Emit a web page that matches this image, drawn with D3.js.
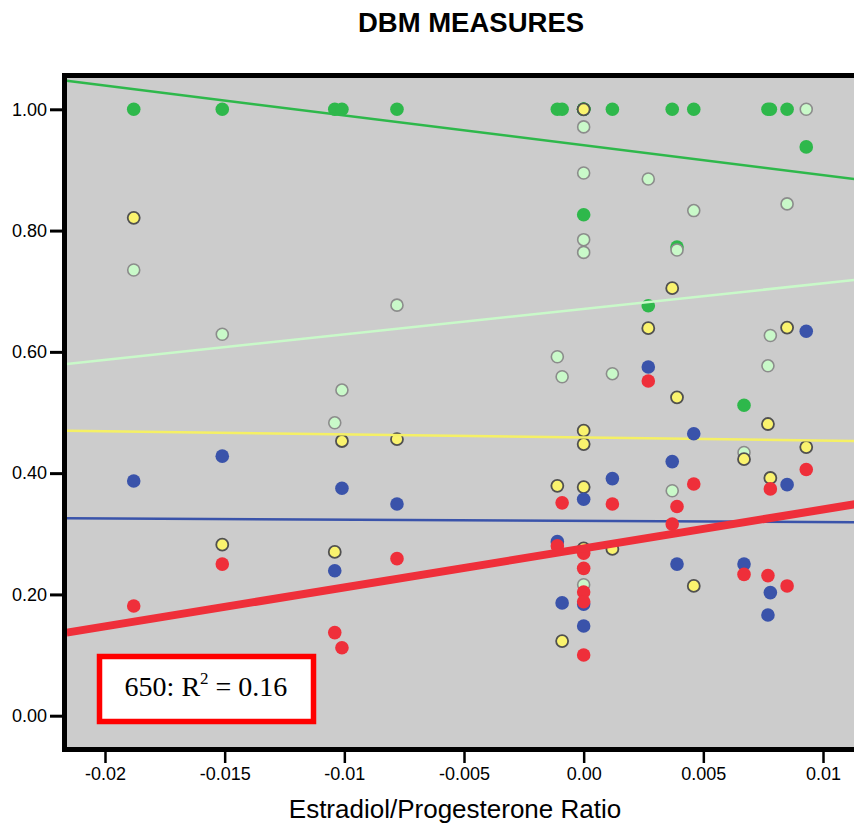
<!DOCTYPE html>
<html>
<head>
<meta charset="utf-8">
<script src="https://cdn.jsdelivr.net/npm/d3@7"></script>
<style>
  html, body { margin: 0; padding: 0; background: #ffffff; }
  svg { display: block; }
</style>
</head>
<body>
<svg id="chart" width="854" height="825"></svg>
<script>
// ---------------- DATA ----------------
const chartTitle = "DBM MEASURES";
const xAxisTitle = "Estradiol/Progesterone Ratio";
const legendPrefix = "650: R";
const legendSup = "2";
const legendSuffix = " = 0.16";

// Estradiol/Progesterone ratio per subject
const ratio = [-0.0188, -0.0151, -0.0104, -0.0101, -0.0078, -0.0011, -0.0009,
  0, 0, 0, 0, 0, 0.0012, 0.0027, 0.0037, 0.0039, 0.0046, 0.0067, 0.0077, 0.0078, 0.0085, 0.0093];

const greenVals = [1, 1, 1, 1, 1, 1, 1, 1, 1, 1, 1, 0.826, 1, 0.676, 1, 0.773, 1, 0.512, 1, 1, 1, 0.938];
const lightGreenVals = [0.735, 0.629, 0.483, 0.537, 0.677, 0.592, 0.559, 0.971, 0.895, 0.785, 0.764, 0.216,
  0.564, 0.885, 0.371, 0.768, 0.833, 0.434, 0.577, 0.627, 0.844, 1.0];
const yellowVals = [0.821, 0.282, 0.270, 0.453, 0.456, 0.379, 0.123, 1.0, 0.470, 0.448, 0.377, 0.276,
  0.275, 0.639, 0.705, 0.525, 0.214, 0.423, 0.481, 0.392, 0.640, 0.443];
const blueVals = [0.387, 0.428, 0.239, 0.375, 0.349, 0.287, 0.186, 0.357, 0.184, 0.148, null, null,
  0.391, 0.575, 0.419, 0.250, 0.465, 0.250, 0.166, 0.203, 0.381, 0.634];
const redVals = [0.181, 0.250, 0.137, 0.112, 0.259, 0.280, 0.351, 0.268, 0.243, 0.204, 0.188, 0.100,
  0.349, 0.552, 0.316, 0.345, 0.382, 0.233, 0.231, 0.374, 0.214, 0.406];

// Fit lines: [x0, y0, x1, y1] in data units
const greenFit = [-0.0216, 1.047, 0.01132, 0.885];
const lightGreenFit = [-0.0216, 0.580, 0.01132, 0.7185];
const yellowFit = [-0.0216, 0.470, 0.01132, 0.453];
const blueFit = [-0.0216, 0.3255, 0.01132, 0.319];
const redFit = [-0.0216, 0.137, 0.01132, 0.3486];

const xTickValues = [-0.02, -0.015, -0.01, -0.005, 0, 0.005, 0.01];
const xTickLabels = ["-0.02", "-0.015", "-0.01", "-0.005", "0.00", "0.005", "0.01"];
const yTickValues = [0, 0.2, 0.4, 0.6, 0.8, 1.0];
const yTickLabels = ["0.00", "0.20", "0.40", "0.60", "0.80", "1.00"];

// ---------------- STYLES ----------------
const series = [
  { vals: greenVals, fit: greenFit, fill: "#2eb84b", stroke: "none", sw: 0, line: "#2eb84b", lw: 2.5 },
  { vals: lightGreenVals, fit: lightGreenFit, fill: "#c9f9c9", stroke: "#8c8c8c", sw: 1.6, line: "#c9f9c9", lw: 2.5 },
  { vals: yellowVals, fit: yellowFit, fill: "#faf36e", stroke: "#505050", sw: 1.8, line: "#f5f065", lw: 2.5 },
  { vals: blueVals, fit: blueFit, fill: "#3a53aa", stroke: "none", sw: 0, line: "#3a53aa", lw: 2.5 },
  { vals: redVals, fit: redFit, fill: "#ef2f3a", stroke: "none", sw: 0, line: "#ef2f3a", lw: 8 }
];

const svg = d3.select("#chart");
const plot = { left: 64, right: 854, top: 75, bottom: 750 };

const x = d3.scaleLinear().domain([-0.02, 0.01]).range([105, 823]);
const y = d3.scaleLinear().domain([0, 1]).range([715.7, 109.3]);

// Title
svg.append("text")
  .attr("x", 471).attr("y", 32)
  .attr("text-anchor", "middle")
  .attr("font-family", "Liberation Sans, Arial, sans-serif")
  .attr("font-weight", "bold")
  .attr("font-size", 27.5)
  .attr("fill", "#000")
  .text(chartTitle);

// Plot background
svg.append("rect")
  .attr("x", plot.left).attr("y", plot.top)
  .attr("width", plot.right - plot.left).attr("height", plot.bottom - plot.top)
  .attr("fill", "#cccccc");

svg.append("clipPath").attr("id", "clip")
  .append("rect")
  .attr("x", plot.left + 2).attr("y", plot.top + 2)
  .attr("width", plot.right - plot.left).attr("height", plot.bottom - plot.top - 4);

const g = svg.append("g").attr("clip-path", "url(#clip)");

series.forEach(s => {
  const pts = ratio.map((r, i) => ({ r, v: s.vals[i] })).filter(d => d.v !== null);
  g.append("g").selectAll("circle").data(pts).join("circle")
    .attr("cx", d => x(d.r))
    .attr("cy", d => y(d.v))
    .attr("r", s.stroke === "none" ? 6.8 : 6.0)
    .attr("fill", s.fill)
    .attr("stroke", s.stroke)
    .attr("stroke-width", s.sw);
  g.append("line")
    .attr("x1", x(s.fit[0])).attr("y1", y(s.fit[1]))
    .attr("x2", x(s.fit[2])).attr("y2", y(s.fit[3]))
    .attr("stroke", s.line)
    .attr("stroke-width", s.lw);
});

// Spines
svg.append("line").attr("x1", plot.left).attr("x2", plot.right)
  .attr("y1", plot.top + 0.5).attr("y2", plot.top + 0.5)
  .attr("stroke", "#000").attr("stroke-width", 5);
svg.append("line").attr("x1", plot.left).attr("x2", plot.right)
  .attr("y1", plot.bottom - 0.5).attr("y2", plot.bottom - 0.5)
  .attr("stroke", "#000").attr("stroke-width", 5);
svg.append("line").attr("x1", plot.left + 0.5).attr("x2", plot.left + 0.5)
  .attr("y1", plot.top - 2).attr("y2", plot.bottom + 2)
  .attr("stroke", "#000").attr("stroke-width", 5);

// Y axis
const yAxis = d3.axisLeft(y)
  .tickValues(yTickValues)
  .tickSize(12)
  .tickPadding(3)
  .tickFormat((d, i) => yTickLabels[i]);
const gy = svg.append("g").attr("transform", `translate(${plot.left - 2},0)`).call(yAxis);
gy.select(".domain").remove();
gy.selectAll(".tick line").attr("stroke", "#000").attr("stroke-width", 3);
gy.selectAll(".tick text")
  .attr("font-family", "Liberation Sans, Arial, sans-serif")
  .attr("font-size", 18).attr("fill", "#000");

// X axis
const xAxis = d3.axisBottom(x)
  .tickValues(xTickValues)
  .tickSize(11)
  .tickPadding(4)
  .tickFormat((d, i) => xTickLabels[i]);
const gx = svg.append("g").attr("transform", `translate(0,${plot.bottom + 2})`).call(xAxis);
gx.select(".domain").remove();
gx.selectAll(".tick line").attr("stroke", "#000").attr("stroke-width", 2.5);
gx.selectAll(".tick text")
  .attr("font-family", "Liberation Sans, Arial, sans-serif")
  .attr("font-size", 18).attr("fill", "#000");

// X axis title
svg.append("text")
  .attr("x", 455).attr("y", 818)
  .attr("text-anchor", "middle")
  .attr("font-family", "Liberation Sans, Arial, sans-serif")
  .attr("font-size", 26)
  .attr("fill", "#000")
  .text(xAxisTitle);

// Legend / annotation box
svg.append("rect")
  .attr("x", 99.5).attr("y", 656.5)
  .attr("width", 214).attr("height", 65)
  .attr("fill", "#ffffff")
  .attr("stroke", "#ff0000")
  .attr("stroke-width", 5.5);
const lt = svg.append("text")
  .attr("x", 206).attr("y", 696)
  .attr("text-anchor", "middle")
  .attr("font-family", "Liberation Serif, Times New Roman, serif")
  .attr("font-size", 28)
  .attr("fill", "#000");
lt.append("tspan").text(legendPrefix);
lt.append("tspan").attr("font-size", 17).attr("dy", -12).text(legendSup);
lt.append("tspan").attr("dy", 12).text(legendSuffix);
</script>
</body>
</html>
